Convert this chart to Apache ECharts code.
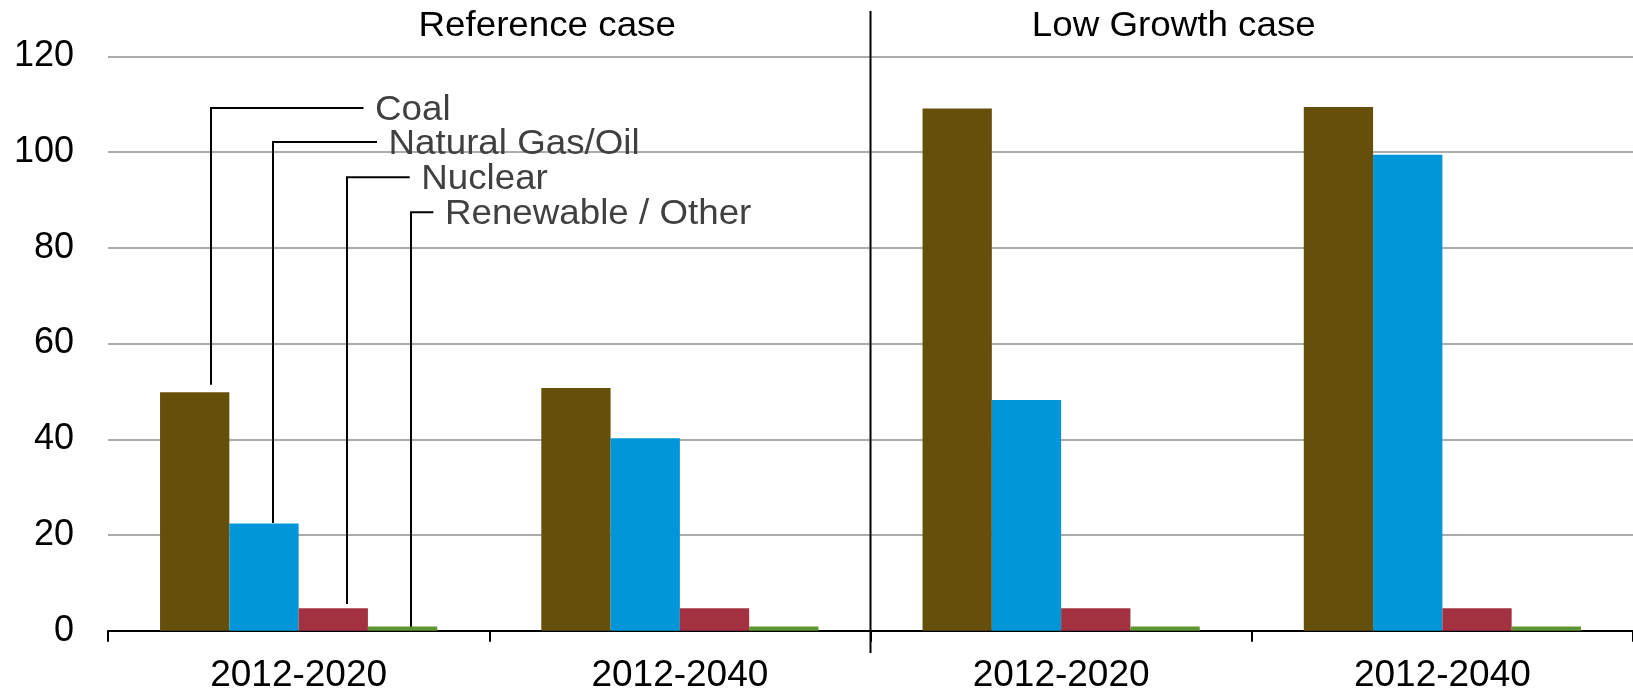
<!DOCTYPE html>
<html>
<head>
<meta charset="utf-8">
<script src="https://cdn.jsdelivr.net/npm/echarts@6/dist/echarts.min.js"></script>
<style>
  html, body { margin: 0; padding: 0; background: #fff; }
  #chart { width: 1633px; height: 690px; }
</style>
</head>
<body>
<div id="chart"></div>
<script>
// Generation change by source, two cases, two periods each
const categories = ['2012-2020', '2012-2040', '2012-2020', '2012-2040'];
const caseNames = ['Reference case', 'Low Growth case'];
const seriesNames = ['Coal', 'Natural Gas/Oil', 'Nuclear', 'Renewable / Other'];
const coal = [49.8, 50.7, 109.1, 109.4];
const gasOil = [22.4, 40.2, 48.2, 99.4];
const nuclear = [4.7, 4.7, 4.7, 4.7];
const renewable = [0.9, 0.9, 0.9, 0.9];
const yMin = 0, yMax = 120, yStep = 20;

const colors = ['#664F0A', '#0096D7', '#A33241', '#5E9633'];
const FONT = '"Liberation Sans", Arial, sans-serif';

const chart = echarts.init(document.getElementById('chart'), null, { renderer: 'canvas' });

const values = [coal, gasOil, nuclear, renewable];
const series = seriesNames.map((name, i) => ({
  name,
  type: 'bar',
  data: values[i],
  barGap: '0%',
  barCategoryGap: '27.3%',
  itemStyle: { color: colors[i] },
  emphasis: { disabled: true }
}));

chart.setOption({
  animation: false,
  grid: {
    left: 108, right: 0, top: 56.25, bottom: 59.25,
    containLabel: false, outerBoundsMode: 'none'
  },
  xAxis: {
    type: 'category',
    data: categories,
    axisLine: { show: true, lineStyle: { color: '#000', width: 2 } },
    axisTick: { show: true, alignWithLabel: false, length: 11, lineStyle: { color: '#000', width: 2 } },
    axisLabel: { color: '#000', fontSize: 37, fontFamily: FONT, margin: 27, interval: 0 },
    splitLine: { show: false }
  },
  yAxis: {
    type: 'value',
    min: yMin, max: yMax, interval: yStep,
    axisLine: { show: false },
    axisTick: { show: false },
    axisLabel: { color: '#000', fontSize: 36, fontFamily: FONT, margin: 34 },
    splitLine: { show: true, lineStyle: { color: '#ababab', width: 2 } }
  },
  series
});

// Leader lines from the first group's bars up to their series names
const leaders = [
  { dx: -87.8, elbow: 109.2, run: 152.5, gap: 7.7 },
  { dx: -26.1, elbow: 102.1, run: 104.0, gap: 0.5 },
  { dx: 48.2,  elbow: 94.7,  run: 62.7,  gap: 4.3 },
  { dx: 112.0, elbow: 87.4,  run: 22.4,  gap: -1.5 }
];
const TEXT_SIZE = 35;
const TEXT_SCALE = 1.05;

function buildGraphics() {
  const px = (i) => chart.convertToPixel({ xAxisIndex: 0 }, i);
  const py = (v) => chart.convertToPixel({ yAxisIndex: 0 }, v);
  const els = [];
  const c0 = px(0);

  leaders.forEach((L, i) => {
    const x = Math.round(c0 + L.dx);
    const yBar = py(values[i][0]) - L.gap;
    const yEl = py(L.elbow);
    const xEnd = x + L.run;
    els.push({
      type: 'polyline', silent: true,
      shape: { points: [[x, yBar], [x, yEl], [xEnd, yEl]] },
      style: { stroke: '#000', lineWidth: 2, fill: null }
    });
    els.push({
      type: 'text', silent: true,
      x: xEnd + 11.5, y: yEl + 2, scaleX: TEXT_SCALE,
      style: { text: seriesNames[i], fill: '#404040', fontSize: TEXT_SIZE, fontFamily: FONT, align: 'left', verticalAlign: 'middle' }
    });
  });

  // Divider between the two cases
  const xDiv = (px(1) + px(2)) / 2;
  els.push({
    type: 'line', silent: true,
    shape: { x1: xDiv, y1: 11, x2: xDiv, y2: 653 },
    style: { stroke: '#000', lineWidth: 2 }
  });

  // Case titles
  const titleX = [418.5, 1031.8];
  caseNames.forEach((t, k) => {
    els.push({
      type: 'text', silent: true,
      x: titleX[k], y: 26, scaleX: TEXT_SCALE,
      style: { text: t, fill: '#000', fontSize: TEXT_SIZE, fontFamily: FONT, align: 'left', verticalAlign: 'middle' }
    });
  });
  chart.setOption({ graphic: { elements: els } });
}
buildGraphics();
</script>
</body>
</html>
